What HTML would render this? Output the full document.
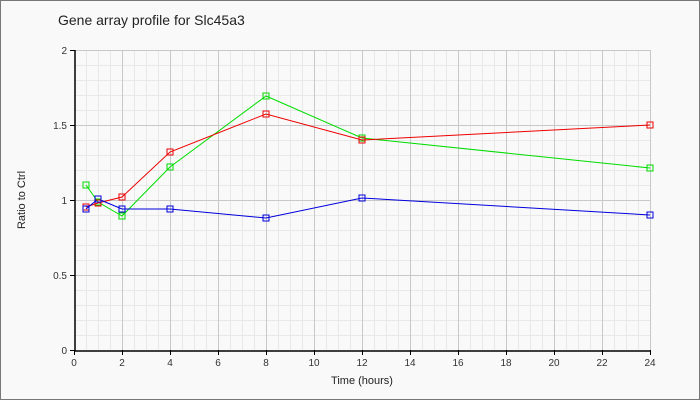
<!DOCTYPE html>
<html><head><meta charset="utf-8"><style>
body{margin:0;background:#fff}
svg{display:block;font-family:"Liberation Sans",sans-serif}
</style></head><body>
<svg width="700" height="400" xmlns="http://www.w3.org/2000/svg">
<rect x="0.5" y="0.5" width="699" height="399" fill="#f9f9f9" stroke="#777"/>
<text x="58" y="25" font-size="14" fill="#222">Gene array profile for Slc45a3</text>
<rect x="74" y="50" width="576" height="300" fill="#f9f9f9"/>
<g stroke="#e8e8e8" stroke-width="1">
<path d="M86.5 50V350M98.5 50V350M110.5 50V350M134.5 50V350M146.5 50V350M158.5 50V350M182.5 50V350M194.5 50V350M206.5 50V350M230.5 50V350M242.5 50V350M254.5 50V350M278.5 50V350M290.5 50V350M302.5 50V350M326.5 50V350M338.5 50V350M350.5 50V350M374.5 50V350M386.5 50V350M398.5 50V350M422.5 50V350M434.5 50V350M446.5 50V350M470.5 50V350M482.5 50V350M494.5 50V350M518.5 50V350M530.5 50V350M542.5 50V350M566.5 50V350M578.5 50V350M590.5 50V350M614.5 50V350M626.5 50V350M638.5 50V350"/>
<path d="M74 65.5H650M74 80.5H650M74 95.5H650M74 110.5H650M74 140.5H650M74 155.5H650M74 170.5H650M74 185.5H650M74 215.5H650M74 230.5H650M74 245.5H650M74 260.5H650M74 290.5H650M74 305.5H650M74 320.5H650M74 335.5H650"/>
</g>
<g stroke="#c8c8c8" stroke-width="1">
<path d="M122.5 50V350M170.5 50V350M218.5 50V350M266.5 50V350M314.5 50V350M362.5 50V350M410.5 50V350M458.5 50V350M506.5 50V350M554.5 50V350M602.5 50V350M650.5 50V350"/>
<path d="M74 50.5H650M74 125.5H650M74 200.5H650M74 275.5H650"/>
</g>
<g stroke="#000" stroke-width="1.5" fill="none">
<path d="M75 50V351H650"/>
</g>
<g stroke="#000" stroke-width="1">
<path d="M70 50.5H75M70 125.5H75M70 200.5H75M70 275.5H75M70 350.5H75"/>
<path d="M74.5 350V355M122.5 350V355M170.5 350V355M218.5 350V355M266.5 350V355M314.5 350V355M362.5 350V355M410.5 350V355M458.5 350V355M506.5 350V355M554.5 350V355M602.5 350V355M650.5 350V355"/>
</g>
<g font-size="10" fill="#333" text-anchor="end">
<text x="67" y="54">2</text><text x="67" y="129">1.5</text><text x="67" y="204">1</text><text x="67" y="279">0.5</text><text x="67" y="354">0</text>
</g>
<g font-size="10" fill="#333" text-anchor="middle">
<text x="74" y="366">0</text><text x="122" y="366">2</text><text x="170" y="366">4</text><text x="218" y="366">6</text><text x="266" y="366">8</text><text x="314" y="366">10</text><text x="362" y="366">12</text><text x="410" y="366">14</text><text x="458" y="366">16</text><text x="506" y="366">18</text><text x="554" y="366">20</text><text x="602" y="366">22</text><text x="650" y="366">24</text>
</g>
<text x="362" y="384" font-size="11" fill="#222" text-anchor="middle">Time (hours)</text>
<text transform="translate(25,200) rotate(-90)" font-size="11" fill="#222" text-anchor="middle">Ratio to Ctrl</text>
<g fill="none" stroke-width="1">
<polyline stroke="#00dd00" points="86,185 98,202 122,216 170,167 266,96 362,138 650,168"/>
<polyline stroke="#ee0000" points="86,207 98,203 122,197 170,152 266,114 362,140 650,125"/>
<polyline stroke="#0000dd" points="86,209 98,199 122,209 170,209 266,218 362,198 650,215"/>
</g>
<g fill="none" stroke="#00dd00">
<rect x="83" y="182" width="6" height="6"/><rect x="95" y="199" width="6" height="6"/><rect x="119" y="213" width="6" height="6"/><rect x="167" y="164" width="6" height="6"/><rect x="263" y="93" width="6" height="6"/><rect x="359" y="135" width="6" height="6"/><rect x="647" y="165" width="6" height="6"/>
</g>
<g fill="none" stroke="#ee0000">
<rect x="83" y="204" width="6" height="6"/><rect x="95" y="200" width="6" height="6"/><rect x="119" y="194" width="6" height="6"/><rect x="167" y="149" width="6" height="6"/><rect x="263" y="111" width="6" height="6"/><rect x="359" y="137" width="6" height="6"/><rect x="647" y="122" width="6" height="6"/>
</g>
<g fill="none" stroke="#0000dd">
<rect x="83" y="206" width="6" height="6"/><rect x="95" y="196" width="6" height="6"/><rect x="119" y="206" width="6" height="6"/><rect x="167" y="206" width="6" height="6"/><rect x="263" y="215" width="6" height="6"/><rect x="359" y="195" width="6" height="6"/><rect x="647" y="212" width="6" height="6"/>
</g>
</svg>
</body></html>
